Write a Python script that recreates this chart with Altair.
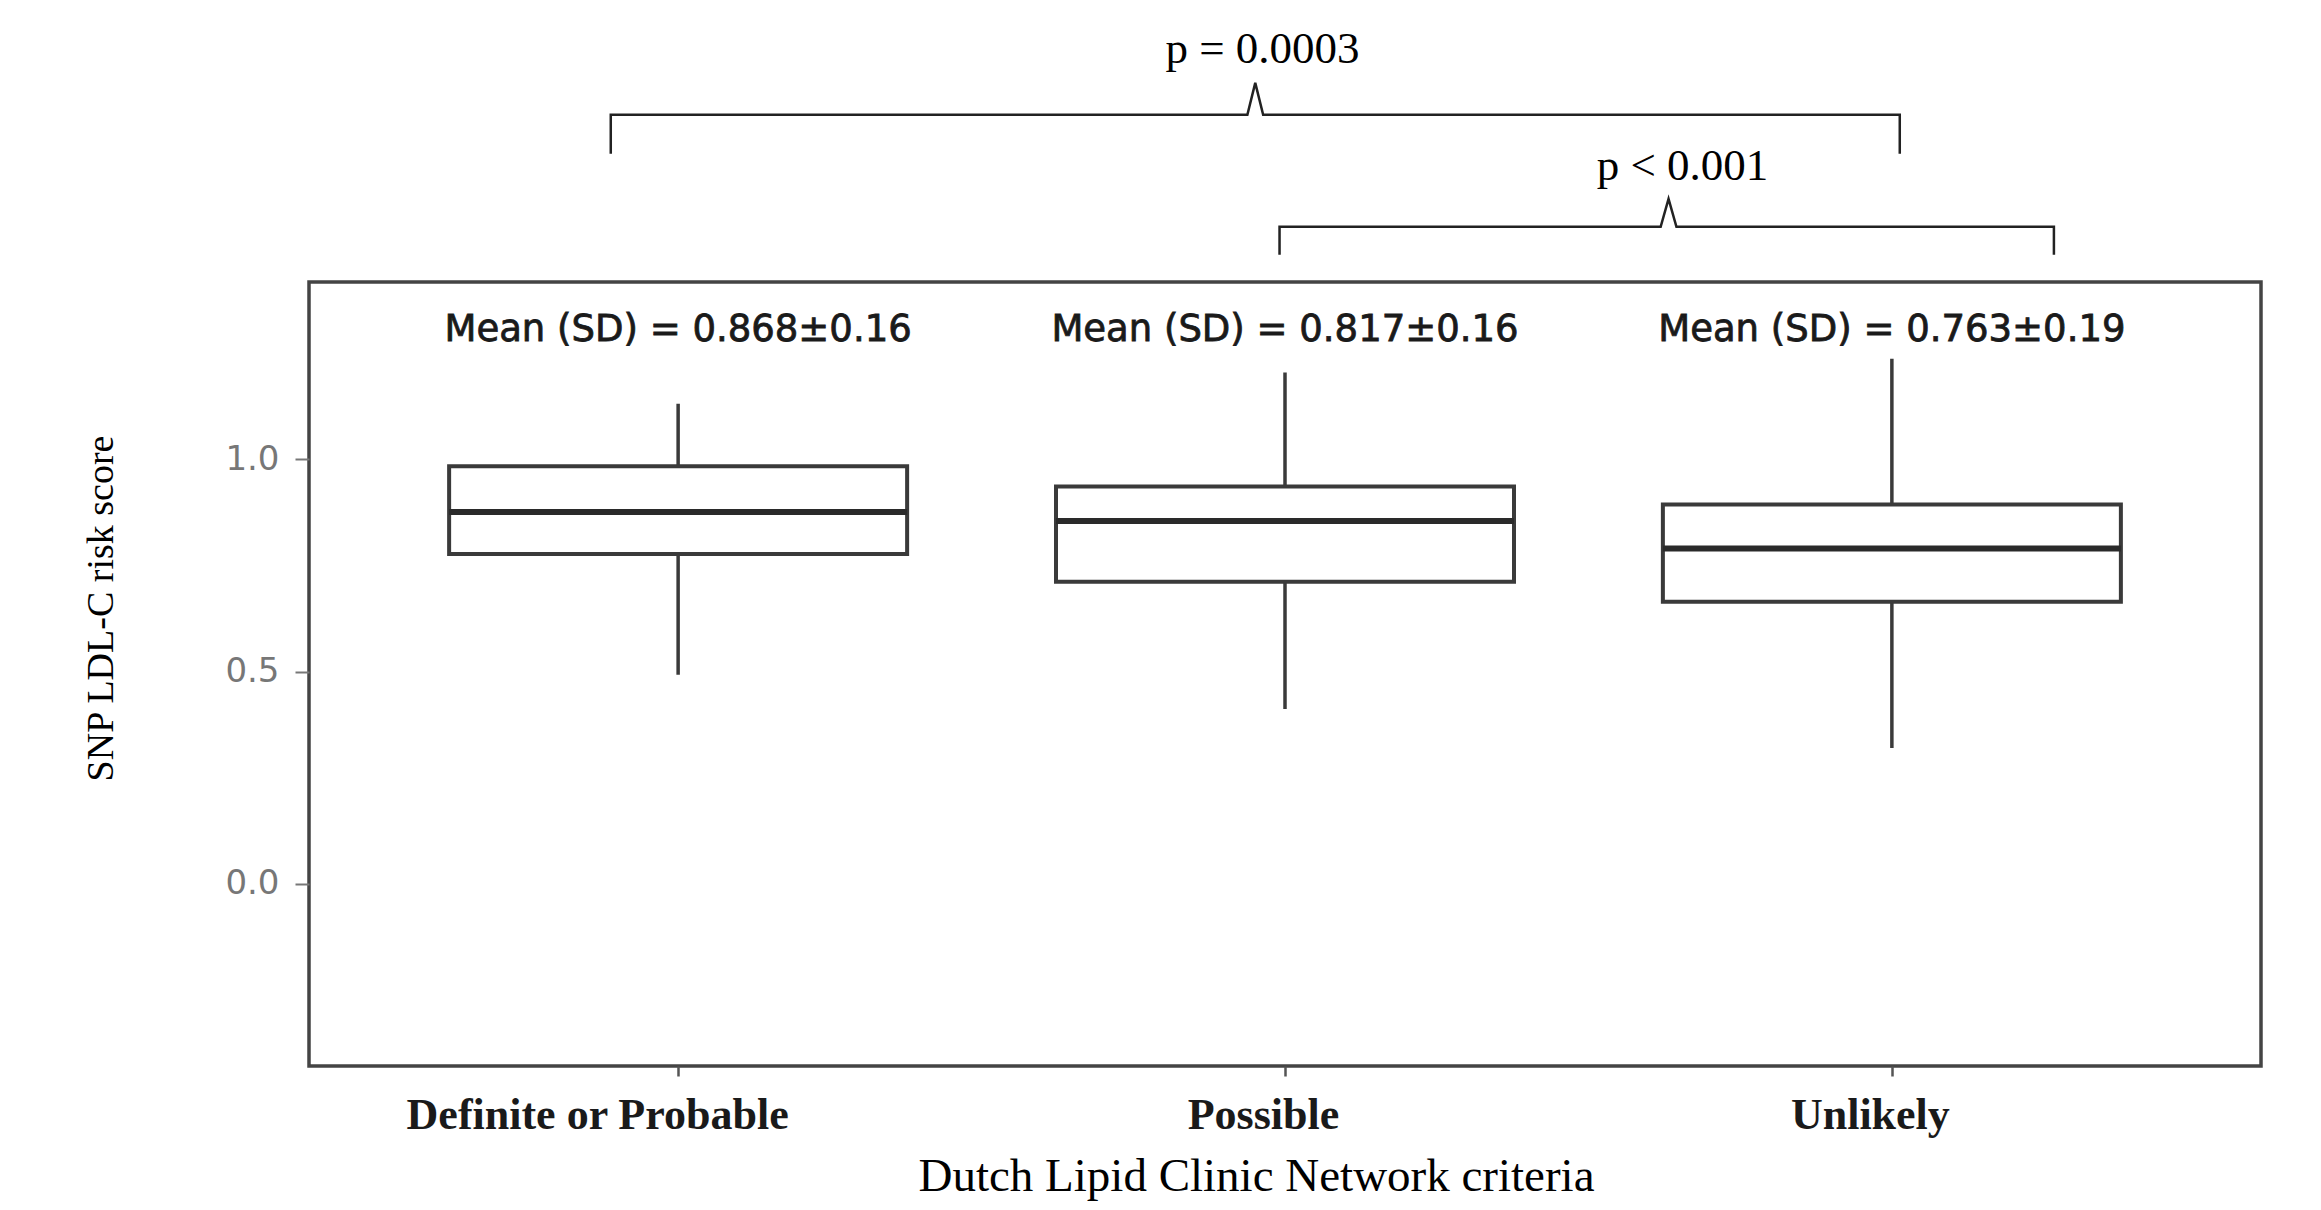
import altair as alt
import pandas as pd

# ---- data ----
categories = ["Definite or Probable", "Possible", "Unlikely"]
cat_pos = [0, 1, 2]
whisker_low = [0.493, 0.412, 0.320]
q1 = [0.777, 0.712, 0.665]
median = [0.876, 0.855, 0.790]
q3 = [0.984, 0.936, 0.894]
whisker_high = [1.131, 1.205, 1.237]
mean_vals = ["0.868", "0.817", "0.763"]
sd_vals = ["0.16", "0.16", "0.19"]
mean_label_y = 1.278

# significance brackets (data units)
b1_x = [-0.111, -0.111, 0.938, 0.951, 0.964, 2.013, 2.013]
b1_y = [1.720, 1.812, 1.812, 1.887, 1.812, 1.812, 1.720]
b2_x = [0.991, 0.991, 1.619, 1.632, 1.645, 2.267, 2.267]
b2_y = [1.482, 1.548, 1.548, 1.614, 1.548, 1.548, 1.482]
p_texts = ["p = 0.0003", "p < 0.001"]
p_x = [0.963, 1.655]
p_y = [1.934, 1.658]

y_ticks = [0.0, 0.5, 1.0]
y_domain = [-0.429, 1.418]
x_domain = [-0.6, 2.6]

# ---- tables ----
boxes = pd.DataFrame({
    "pos": cat_pos, "cat": categories, "lo": whisker_low, "q1": q1,
    "med": median, "q3": q3, "hi": whisker_high,
    "label": [f"Mean (SD) = {m}\u00b1{s}" for m, s in zip(mean_vals, sd_vals)],
    "ly": [mean_label_y] * 3,
})
br_rows = []
for bid, (xs, ys) in enumerate([(b1_x, b1_y), (b2_x, b2_y)]):
    for i, (xx, yy) in enumerate(zip(xs, ys)):
        br_rows.append({"bid": bid, "o": i, "bx": xx, "by": yy})
brackets = pd.DataFrame(br_rows)
plab = pd.DataFrame({"t": p_texts, "px": p_x, "py": p_y})

label_expr = "[" + ",".join(f"'{c}'" for c in categories) + "][datum.value]"

x_scale = alt.Scale(domain=x_domain, nice=False, zero=False)
y_scale = alt.Scale(domain=y_domain, nice=False, zero=False)

x_axis = alt.Axis(
    values=cat_pos, labelExpr=label_expr, grid=False, domain=False,
    tickSize=10, tickWidth=2.5, tickColor="#555",
    labelFont="Liberation Serif", labelFontSize=44, labelFontWeight="bold",
    labelColor="#1a1a1a",
    labelBaseline="alphabetic", labelPadding=52, labelFlush=False,
    labelLimit=0,
    labelOffset={"condition": {"test": "datum.value == 0", "value": -81}, "value": -22},
    title="Dutch Lipid Clinic Network criteria", titleFont="Liberation Serif",
    titleFontSize=47, titleFontWeight="normal", titleColor="#000",
    titleX=947, titleY=124, titleBaseline="alphabetic", titleAnchor="start",
    titleAlign="center",
)
y_axis = alt.Axis(
    values=y_ticks, format=".1f", grid=False, domain=False,
    tickSize=14, tickWidth=2, tickColor="#777",
    labelFont="DejaVu Sans", labelFontSize=34, labelColor="#777",
    labelPadding=16,
    title="SNP LDL-C risk score", titleFont="Liberation Serif",
    titleFontSize=38, titleFontWeight="normal", titleColor="#000",
    titleAngle=270, titleX=-208, titleY=326, titleAlign="center",
    titleBaseline="middle",
)

base = alt.Chart(boxes)

whisk = base.mark_rule(color="#3a3a3a", strokeWidth=3.5).encode(
    x=alt.X("pos:Q", scale=x_scale, axis=x_axis),
    y=alt.Y("lo:Q", scale=y_scale, axis=y_axis),
    y2="hi:Q",
)
box = base.mark_bar(size=458, fill="white", stroke="#3a3a3a", strokeWidth=4).encode(
    x="pos:Q", y="q1:Q", y2="q3:Q",
)
med = base.mark_tick(orient="horizontal", size=458, thickness=6, color="#2a2a2a", opacity=1).encode(
    x="pos:Q", y="med:Q",
)
mean_txt = base.mark_text(font="DejaVu Sans", fontSize=37, fill="#1a1a1a",
                          stroke="#1a1a1a", strokeWidth=0.8,
                          baseline="alphabetic", align="center").encode(
    x="pos:Q", y="ly:Q", text="label:N",
)
br = alt.Chart(brackets).mark_line(color="#222", strokeWidth=2.5).encode(
    x="bx:Q", y="by:Q", detail="bid:N", order="o:Q",
)
ptxt = alt.Chart(plab).mark_text(font="Liberation Serif", fontSize=45, color="#000",
                                 baseline="alphabetic", align="center").encode(
    x="px:Q", y="py:Q", text="t:N",
)

chart = alt.layer(whisk, box, med, mean_txt, br, ptxt).properties(
    width=1952, height=784,
    autosize=alt.AutoSizeParams(type="none"),
    padding={"left": 301, "top": 274, "right": 44, "bottom": 136},
).configure(background="white").configure_view(
    stroke="#444", strokeWidth=3.5,
)

chart.save("out.html", embed_options={"renderer": "svg", "actions": False})
